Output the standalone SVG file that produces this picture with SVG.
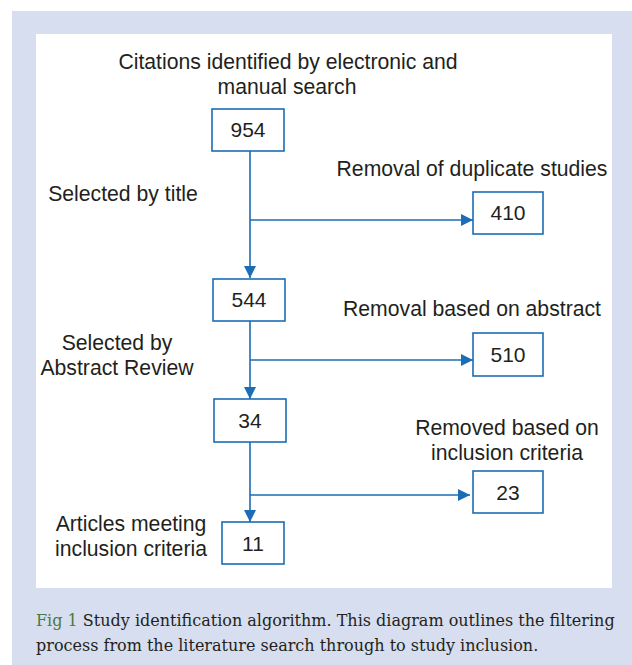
<svg xmlns="http://www.w3.org/2000/svg" width="632" height="665" viewBox="0 0 632 665">
<defs>
<marker id="ah" markerWidth="12" markerHeight="12" refX="12" refY="6" orient="auto" markerUnits="userSpaceOnUse">
<path d="M0,0 L12,6 L0,12 Z" fill="#1b6db5"/>
</marker>
</defs>
<style>
.lbl{font-family:"Liberation Sans",Arial,sans-serif;font-size:21.2px;fill:#231f20;text-anchor:middle}
.box{fill:#fff;stroke:#1b6db5;stroke-width:1.6}
.num{font-family:"Liberation Sans",Arial,sans-serif;font-size:21px;fill:#231f20;text-anchor:middle}
.con{fill:none;stroke:#1b6db5;stroke-width:1.6}
.cap{font-family:"DejaVu Serif","Liberation Serif",serif;font-size:16px;fill:#231f20}
</style>
<rect x="12" y="11" width="620" height="654" fill="#d6deef"/>
<rect x="36" y="34" width="576" height="554" fill="#ffffff"/>
<g id="connectors">
<line class="con" x1="250" y1="151" x2="250" y2="278" marker-end="url(#ah)"/>
<line class="con" x1="250" y1="220" x2="473" y2="220" marker-end="url(#ah)"/>
<line class="con" x1="250" y1="321" x2="250" y2="399" marker-end="url(#ah)"/>
<line class="con" x1="250" y1="360" x2="473" y2="360" marker-end="url(#ah)"/>
<line class="con" x1="250" y1="442" x2="250" y2="522" marker-end="url(#ah)"/>
<line class="con" x1="250" y1="495" x2="470" y2="495" marker-end="url(#ah)"/>
</g>
<g id="title">
<text class="lbl" x="288" y="69">Citations identified by electronic and</text>
<text class="lbl" x="287" y="94">manual search</text>
</g>
<g id="n954"><rect class="box" x="212" y="109" width="72" height="42"/><text class="num" x="248" y="137">954</text></g>
<g id="n410"><rect class="box" x="473" y="192" width="70" height="42"/><text class="num" x="508" y="220">410</text></g>
<g id="n544"><rect class="box" x="213" y="279" width="72" height="42"/><text class="num" x="249" y="307">544</text></g>
<g id="n510"><rect class="box" x="473" y="333" width="70" height="43"/><text class="num" x="508" y="362">510</text></g>
<g id="n34"><rect class="box" x="214" y="399" width="72" height="43"/><text class="num" x="250" y="428">34</text></g>
<g id="n23"><rect class="box" x="473" y="471" width="70" height="42"/><text class="num" x="508" y="500">23</text></g>
<g id="n11"><rect class="box" x="222" y="522" width="62" height="42"/><text class="num" x="253" y="551">11</text></g>
<g id="labels">
<text class="lbl" x="472" y="176">Removal of duplicate studies</text>
<text class="lbl" x="123" y="201">Selected by title</text>
<text class="lbl" x="472" y="316">Removal based on abstract</text>
<text class="lbl" x="117" y="350">Selected by</text>
<text class="lbl" x="117" y="375">Abstract Review</text>
<text class="lbl" x="507" y="435">Removed based on</text>
<text class="lbl" x="507" y="460">inclusion criteria</text>
<text class="lbl" x="131" y="531">Articles meeting</text>
<text class="lbl" x="131" y="556">inclusion criteria</text>
</g>
<g id="caption">
<text class="cap" x="36" y="626"><tspan fill="#4a7a3c">Fig 1</tspan> Study identification algorithm. This diagram outlines the filtering</text>
<text class="cap" x="36" y="651">process from the literature search through to study inclusion.</text>
</g>
</svg>
